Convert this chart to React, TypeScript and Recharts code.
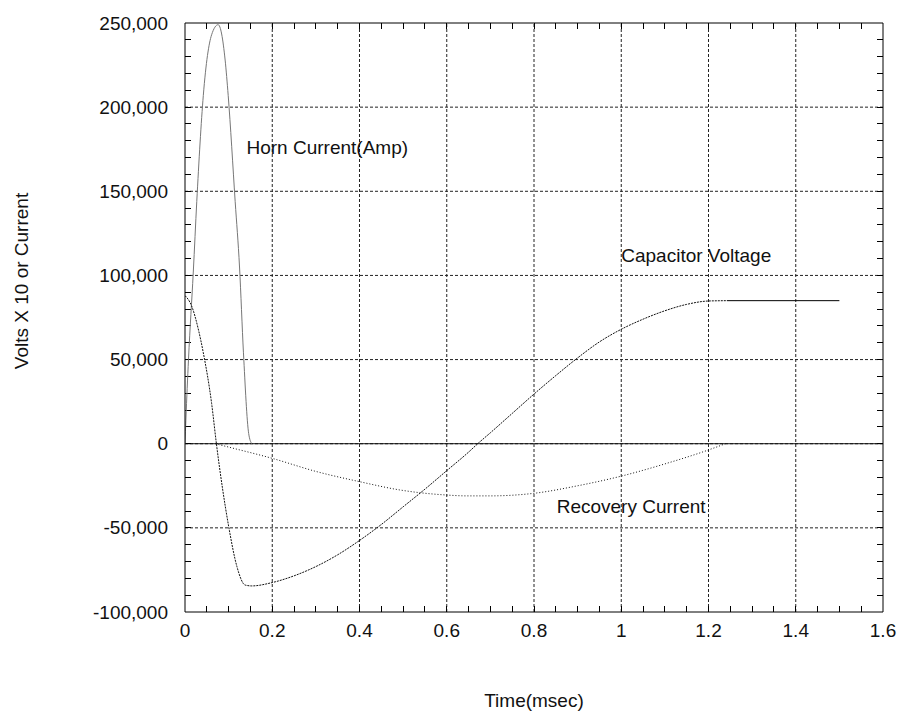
import React from "react";
import {
  LineChart,
  Line,
  XAxis,
  YAxis,
  ReferenceLine,
  ReferenceDot,
} from "recharts";

// horn current (Amp), time in msec
const hornTime = [0, 0.002, 0.008, 0.019, 0.027, 0.042, 0.061, 0.076, 0.092, 0.099, 0.115, 0.125, 0.134, 0.146, 0.153];
const hornAmp = [0, 14000, 50000, 102000, 144000, 207000, 243000, 249000, 228000, 207000, 144000, 105000, 54000, 6000, 0];

// capacitor voltage (Volts x 10)
const capTime = [0, 0.015, 0.031, 0.042, 0.061, 0.072, 0.1, 0.119, 0.138, 0.153, 0.2, 0.25, 0.3, 0.35, 0.4, 0.45, 0.5, 0.55, 0.6, 0.65, 0.671, 0.7, 0.75, 0.8, 0.85, 0.9, 0.95, 1.0, 1.05, 1.1, 1.15, 1.2, 1.242, 1.5];
const capVolts = [88000, 82000, 67500, 54000, 24000, 0, -49000, -73000, -84000, -84500, -82500, -78500, -73000, -66000, -57500, -48000, -37500, -27000, -16000, -5000, 0, 6500, 18000, 29500, 40500, 51000, 60500, 68000, 74000, 79000, 82800, 84800, 85000, 85000];
const capHoldStart = 1.242;

// recovery current
const recTime = [0.07, 0.1, 0.2, 0.302, 0.401, 0.493, 0.6, 0.646, 0.7, 0.799, 0.9, 1.001, 1.1, 1.2, 1.239];
const recAmp = [0, -2000, -8700, -16600, -22600, -27500, -30500, -31000, -31000, -29500, -25000, -19200, -12000, -3700, 0];

const xMajor = [0, 0.2, 0.4, 0.6, 0.8, 1, 1.2, 1.4, 1.6];
const yMajor = [-100000, -50000, 0, 50000, 100000, 150000, 200000, 250000];
const xMinor = Array.from({ length: 31 }, (_, i) => +((i + 1) * 0.05).toFixed(2));
const yMinor = Array.from({ length: 34 }, (_, i) => -90000 + i * 10000);

const X_MIN = 0;
const X_MAX = 1.6;
const Y_MIN = -100000;
const Y_MAX = 250000;
const X_TICK = 0.013; // ~6px
const Y_TICK = 3500; // ~6px

const toPoints = (ts: number[], vs: number[]) => ts.map((t, i) => ({ t, v: vs[i] }));

const hornData = toPoints(hornTime, hornAmp);
const capData = toPoints(capTime, capVolts);
const capRamp = capData.filter((p) => p.t <= capHoldStart);
const capHold = capData.filter((p) => p.t >= capHoldStart);
const recData = toPoints(recTime, recAmp);

const FONT = "'Liberation Sans', Arial, sans-serif";
const FS = 19;
const TXT = "#111";

const BottomTick = (props: any) => {
  const { x, y, payload } = props;
  return (
    <text x={x} y={y + 18} textAnchor="middle" dominantBaseline="central" fontSize={FS} fontFamily={FONT} fill={TXT}>
      {String(Number(payload.value.toFixed(2)))}
    </text>
  );
};

const LeftTick = (props: any) => {
  const { x, y, payload } = props;
  return (
    <text x={x - 17} y={y} textAnchor="end" dominantBaseline="central" fontSize={FS} fontFamily={FONT} fill={TXT}>
      {payload.value.toLocaleString("en-US")}
    </text>
  );
};

const note = (text: string) => (props: any) => {
  const { viewBox } = props;
  return (
    <text x={viewBox.x} y={viewBox.y} dominantBaseline="central" fontSize={FS} fontFamily={FONT} fill={TXT}>
      {text}
    </text>
  );
};

const YTitle = (props: any) => {
  const { viewBox } = props;
  const cx = viewBox.x + 21;
  const cy = 281;
  return (
    <text x={cx} y={cy} transform={`rotate(-90 ${cx} ${cy})`} textAnchor="middle" dominantBaseline="central" fontSize={FS} fontFamily={FONT} fill={TXT}>
      Volts X 10 or Current
    </text>
  );
};

const XTitle = (props: any) => {
  const { viewBox } = props;
  const cx = viewBox.x + viewBox.width / 2;
  return (
    <text x={cx} y={700} textAnchor="middle" dominantBaseline="central" fontSize={FS} fontFamily={FONT} fill={TXT}>
      Time(msec)
    </text>
  );
};

const allXTicks = [...xMajor.slice(1, -1), ...xMinor];
const allYTicks = [...yMajor.slice(1, -1), ...yMinor];

export default function App() {
  return (
    <div style={{ position: "absolute", left: 0, top: 0, width: 904, height: 718, background: "#fff" }}>
      <LineChart width={904} height={718} margin={{ top: 23, right: 21, bottom: 0, left: 0 }}>
        <XAxis
          dataKey="t"
          type="number"
          domain={[X_MIN, X_MAX]}
          ticks={xMajor}
          interval={0}
          height={106}
          tickSize={0}
          tickMargin={0}
          tickLine={false}
          axisLine={{ stroke: "#000" }}
          tick={BottomTick}
          label={{ content: XTitle }}
          allowDataOverflow
        />
        <YAxis
          type="number"
          domain={[Y_MIN, Y_MAX]}
          ticks={yMajor}
          interval={0}
          width={185}
          tickSize={0}
          tickMargin={0}
          tickLine={false}
          axisLine={{ stroke: "#000" }}
          tick={LeftTick}
          label={{ content: YTitle }}
          allowDataOverflow
        />

        {/* frame top + right */}
        <ReferenceLine y={Y_MAX} stroke="#000" />
        <ReferenceLine x={X_MAX} stroke="#000" />

        {xMajor.slice(1, -1).map((v) => (
          <ReferenceLine key={`gx${v}`} x={v} stroke="#222" strokeDasharray="3 2" />
        ))}
        {yMajor.slice(1, -1).map((v) => (
          <ReferenceLine key={`gy${v}`} y={v} stroke="#222" strokeDasharray="3 2" />
        ))}
        <ReferenceLine y={0} stroke="#111" />

        {/* inward tick marks on all four sides */}
        {allXTicks.map((v) => (
          <ReferenceLine key={`tb${v}`} segment={[{ x: v, y: Y_MIN }, { x: v, y: Y_MIN + Y_TICK }]} stroke="#000" shapeRendering="crispEdges" ifOverflow="visible" />
        ))}
        {allXTicks.map((v) => (
          <ReferenceLine key={`tt${v}`} segment={[{ x: v, y: Y_MAX }, { x: v, y: Y_MAX - Y_TICK }]} stroke="#000" shapeRendering="crispEdges" ifOverflow="visible" />
        ))}
        {allYTicks.map((v) => (
          <ReferenceLine key={`tl${v}`} segment={[{ x: X_MIN, y: v }, { x: X_MIN + X_TICK, y: v }]} stroke="#000" shapeRendering="crispEdges" ifOverflow="visible" />
        ))}
        {allYTicks.map((v) => (
          <ReferenceLine key={`tr${v}`} segment={[{ x: X_MAX, y: v }, { x: X_MAX - X_TICK, y: v }]} stroke="#000" shapeRendering="crispEdges" ifOverflow="visible" />
        ))}

        <Line data={hornData} dataKey="v" type="monotone" stroke="#777" strokeWidth={1} dot={false} isAnimationActive={false} />
        <Line data={capRamp} dataKey="v" type="monotone" stroke="#111" strokeWidth={1} strokeDasharray="2 1" dot={false} isAnimationActive={false} />
        <Line data={capHold} dataKey="v" type="linear" stroke="#000" strokeWidth={1} dot={false} isAnimationActive={false} />
        <Line data={recData} dataKey="v" type="monotone" stroke="#111" strokeWidth={1} strokeDasharray="1 2" dot={false} isAnimationActive={false} />

        <ReferenceDot x={0.141} y={176000} r={0} fill="none" stroke="none" label={{ content: note("Horn Current(Amp)") }} />
        <ReferenceDot x={1.0} y={112000} r={0} fill="none" stroke="none" label={{ content: note("Capacitor Voltage") }} />
        <ReferenceDot x={0.852} y={-37400} r={0} fill="none" stroke="none" label={{ content: note("Recovery Current") }} />
      </LineChart>
    </div>
  );
}
